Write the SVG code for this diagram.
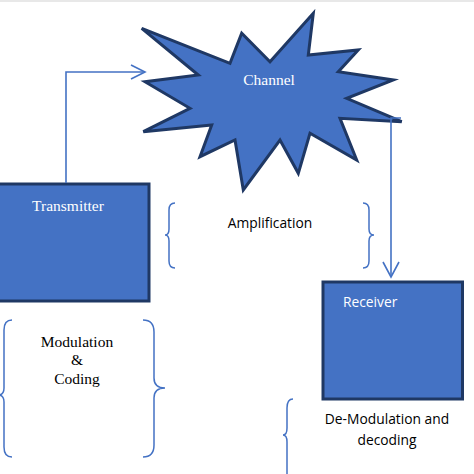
<svg xmlns="http://www.w3.org/2000/svg" width="474" height="474" viewBox="0 0 474 474">
<defs>
<style>
.box{fill:#4472C4;stroke:#1F3864;stroke-width:3}
.wt{fill:#ffffff;font-family:"Liberation Serif",serif;font-size:15.5px}
.wc{fill:#ffffff;font-family:"Open Sans","Liberation Sans",sans-serif;font-size:13.8px}
.tt{fill:#000000;font-family:"Liberation Serif",serif;font-size:15.5px;text-anchor:middle}
.ct{fill:#000000;font-family:"Open Sans","Liberation Sans",sans-serif;font-size:13.8px;text-anchor:middle}
.con{fill:none;stroke:#4472C4;stroke-width:1.6}
.brace{fill:none;stroke:#4472C4;stroke-width:1.5}
</style>
</defs>
<rect x="0" y="0" width="474" height="474" fill="#ffffff"/>
<rect x="0" y="0" width="474" height="2" fill="#e8e8e8"/>

<g id="channel">
<polygon class="box" stroke-width="3.5" points="141.7,28.3 230,63.3 241.7,33.3 270,61.7 313.3,13.3 308.3,55 358.3,50 338.3,71.7 393.3,80 346.7,98.3 401.7,121.7 340,118.3 356.7,160 310,133.3 298.3,173.3 280,140 243.3,190 235,140 200,156.7 211.7,125 143.3,131.7 190,108.3 145,81.7 198.3,75"/>
<text class="wt" x="269" y="85" text-anchor="middle">Channel</text>
</g>

<g id="transmitter">
<rect class="box" x="-3" y="184" width="152" height="117"/>
<text class="wt" x="68" y="211" text-anchor="middle">Transmitter</text>
</g>

<g id="receiver">
<rect class="box" x="323" y="282" width="139.5" height="117"/>
<text class="wc" x="343" y="307">Receiver</text>
</g>

<g id="connectors">
<path class="con" d="M66,183 V72 H145"/>
<path class="con" d="M131,65 L145,72 L131,79"/>
<path class="con" d="M401,118 H391 V277"/>
<path class="con" d="M383,262 L391,277 L399,262"/>
</g>

<g id="braces">
<path class="brace" d="M175,203 Q169,203 169,210 V229 Q169,235 165,235 Q169,235 169,241 V261 Q169,268 175,268"/>
<path class="brace" d="M363,203 Q369,203 369,210 V229 Q369,235 374,235 Q369,235 369,241 V261 Q369,268 363,268"/>
<path class="brace" d="M12,320 Q4,320 4,330 V388 Q4,395 -2,395 Q4,395 4,402 V447 Q4,457 12,457"/>
<path class="brace" d="M143,320 Q154,320 154,332 V378 Q154,388 165,388 Q154,388 154,398 V445 Q154,457 143,457"/>
<path class="brace" d="M293,399 Q287,399 287,408 V428 Q287,435 283,435 Q287,435 287,442 V474"/>
</g>

<g id="labels">
<text class="ct" x="270" y="228">Amplification</text>
<text class="tt" x="77" y="347">Modulation</text>
<text class="tt" x="77" y="365">&amp;</text>
<text class="tt" x="77" y="384">Coding</text>
<text class="ct" x="387" y="424">De-Modulation and</text>
<text class="ct" x="387" y="445">decoding</text>
</g>
</svg>
